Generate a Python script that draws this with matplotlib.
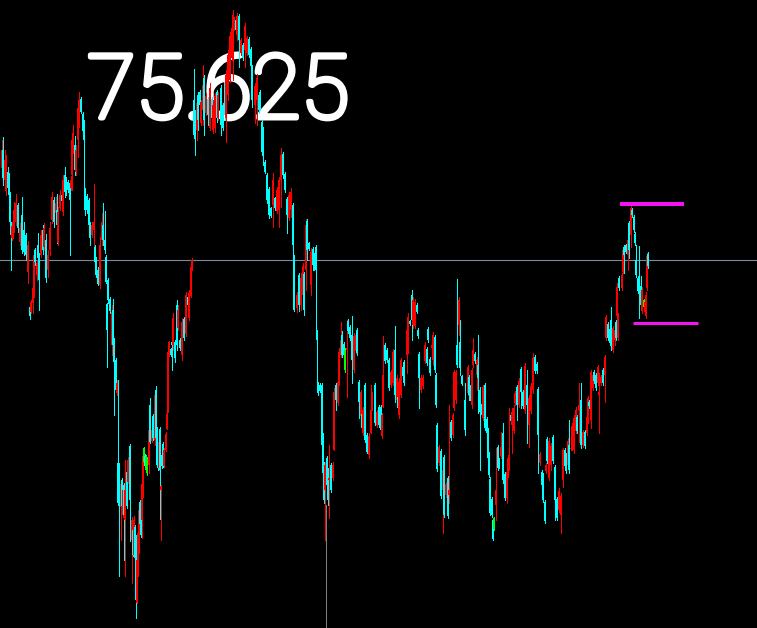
#!/usr/bin/env python3
"""Price chart on black, candles read off the picture (price scale = picture rows)."""
import matplotlib
matplotlib.use("Agg")
import matplotlib.pyplot as plt
import matplotlib.patheffects as pe

BG = "#000000"
UP = "#ff0000"
DOWN = "#00ffff"
DOJI = "#00ff00"
MAGENTA = "#f213f2"
GRID = "#7f8a9e"

times = [
    2, 3, 5, 6, 8, 9, 10, 11, 12, 13,
    14, 16, 18, 20, 22, 24, 26, 28, 30, 31,
    33, 34, 35, 37, 38, 39, 41, 43, 44, 46,
    48, 50, 52, 54, 56, 57, 58, 60, 62, 63,
    65, 66, 68, 70, 71, 72, 73, 75, 76, 78,
    79, 81, 83, 84, 85, 87, 89, 90, 92, 94,
    95, 96, 98, 100, 102, 103, 105, 106, 107, 108,
    110, 112, 113, 114, 116, 117, 118, 119, 121, 122,
    123, 124, 125, 127, 128, 130, 132, 133, 134, 135,
    136, 137, 138, 139, 140, 141, 142, 143, 144, 145,
    146, 147, 149, 150, 152, 153, 155, 156, 157, 158,
    159, 160, 161, 162, 163, 164, 166, 167, 168, 169,
    171, 172, 173, 175, 177, 178, 180, 182, 184, 186,
    188, 189, 191, 192, 194, 195, 197, 198, 200, 201,
    203, 204, 206, 208, 210, 212, 213, 215, 217, 218,
    221, 223, 225, 226, 228, 230, 232, 233, 234, 236,
    237, 239, 241, 243, 245, 247, 249, 251, 252, 255,
    257, 259, 260, 262, 263, 265, 267, 269, 271, 273,
    275, 277, 279, 281, 283, 285, 287, 289, 291, 293,
    294, 297, 299, 301, 303, 304, 306, 307, 309, 311,
    313, 314, 316, 317, 318, 320, 322, 323, 324, 325,
    327, 328, 329, 331, 333, 334, 336, 338, 339, 341,
    342, 344, 345, 347, 348, 350, 352, 354, 356, 357,
    359, 361, 362, 363, 365, 367, 369, 371, 372, 375,
    377, 379, 381, 382, 383, 385, 387, 389, 391, 393,
    395, 397, 398, 399, 401, 403, 404, 407, 408, 410,
    412, 413, 415, 417, 418, 419, 421, 423, 425, 427,
    428, 430, 432, 433, 435, 436, 437, 439, 441, 443,
    444, 446, 448, 449, 451, 453, 454, 456, 457, 459,
    460, 462, 465, 468, 469, 471, 472, 473, 475, 477,
    478, 480, 482, 483, 485, 487, 488, 489, 490, 492,
    493, 494, 496, 498, 499, 501, 503, 505, 507, 508,
    509, 511, 512, 514, 515, 517, 519, 521, 523, 525,
    527, 529, 531, 533, 535, 537, 538, 540, 542, 543,
    545, 546, 547, 549, 551, 553, 555, 557, 559, 561,
    563, 565, 566, 568, 569, 571, 572, 574, 576, 577,
    579, 581, 583, 585, 587, 588, 589, 591, 593, 594,
    596, 598, 599, 601, 603, 605, 606, 608, 610, 611,
    613, 615, 616, 617, 618, 619, 622, 623, 624, 626,
    628, 629, 631, 632, 634, 635, 636, 638, 639, 641,
    642, 644, 645, 646, 647, 648,
]
highs = [
    140, 137, 150, 155, 167, 173, 192, 222, 222, 222,
    202, 194, 203, 223, 197, 222, 233, 241, 305, 300,
    282, 249, 248, 260, 233, 253, 230, 225, 223, 234,
    250, 222, 192, 197, 197, 194, 207, 190, 192, 175,
    167, 177, 180, 180, 176, 133, 125, 136, 145, 102,
    92, 97, 112, 120, 188, 194, 198, 222, 222, 184,
    245, 257, 267, 237, 213, 203, 211, 255, 303, 278,
    297, 305, 299, 338, 358, 380, 380, 463, 480, 478,
    487, 483, 460, 470, 457, 444, 517, 528, 516, 525,
    535, 533, 532, 507, 500, 516, 480, 453, 447, 454,
    455, 457, 412, 398, 428, 414, 391, 386, 427, 453,
    440, 427, 485, 453, 442, 448, 432, 412, 350, 341,
    348, 340, 313, 340, 300, 305, 338, 318, 317, 292,
    295, 290, 265, 258, 69, 110, 100, 92, 90, 100,
    65, 75, 93, 97, 83, 97, 100, 93, 90, 92,
    85, 103, 80, 70, 50, 32, 25, 10, 17, 18,
    13, 14, 38, 43, 23, 36, 37, 47, 65, 83,
    74, 93, 90, 120, 127, 160, 173, 187, 207, 173,
    197, 187, 177, 148, 152, 172, 197, 192, 188, 203,
    255, 292, 273, 273, 263, 272, 219, 219, 242, 248,
    247, 253, 245, 330, 382, 383, 383, 433, 462, 462,
    456, 468, 445, 463, 462, 388, 383, 378, 348, 322,
    331, 342, 348, 320, 319, 325, 316, 333, 332, 328,
    380, 390, 412, 407, 383, 433, 433, 385, 392, 383,
    410, 405, 405, 413, 336, 343, 348, 358, 370, 349,
    326, 375, 395, 378, 358, 365, 360, 327, 313, 320,
    290, 297, 299, 303, 328, 352, 375, 375, 342, 347,
    327, 357, 343, 332, 335, 373, 423, 445, 449, 467,
    455, 482, 476, 405, 420, 413, 370, 370, 279, 297,
    320, 375, 383, 365, 375, 383, 368, 338, 352, 357,
    335, 387, 402, 385, 383, 417, 428, 452, 477, 497,
    518, 517, 448, 445, 458, 432, 423, 472, 468, 455,
    408, 413, 408, 405, 391, 385, 378, 367, 390, 363,
    370, 395, 383, 353, 355, 362, 387, 452, 470, 473,
    500, 463, 437, 438, 443, 435, 465, 497, 488, 493,
    448, 448, 453, 438, 420, 447, 423, 415, 407, 415,
    383, 383, 430, 430, 415, 396, 400, 370, 373, 370,
    373, 365, 373, 375, 368, 355, 315, 322, 327, 307,
    326, 327, 320, 283, 313, 276, 273, 247, 245, 244,
    237, 221, 205, 208, 215, 232, 245, 276, 246, 276,
    287, 299, 300, 292, 253, 252,
]
lows = [
    170, 185, 190, 195, 190, 198, 225, 270, 240, 238,
    232, 225, 232, 245, 253, 255, 260, 283, 319, 313,
    313, 297, 265, 280, 260, 310, 257, 254, 250, 282,
    277, 255, 223, 227, 215, 243, 245, 210, 203, 215,
    197, 195, 192, 255, 190, 190, 153, 175, 175, 157,
    127, 113, 133, 190, 215, 213, 227, 245, 237, 248,
    268, 277, 285, 288, 245, 245, 253, 283, 367, 303,
    313, 355, 350, 415, 392, 395, 505, 576, 540, 508,
    517, 560, 576, 508, 483, 541, 583, 556, 556, 560,
    618, 603, 576, 553, 525, 537, 538, 497, 463, 468,
    472, 475, 473, 443, 442, 440, 445, 440, 467, 470,
    470, 519, 540, 468, 467, 467, 451, 429, 412, 356,
    356, 370, 350, 362, 350, 330, 350, 360, 340, 336,
    307, 320, 297, 270, 138, 155, 140, 130, 107, 125,
    125, 135, 115, 125, 130, 120, 133, 132, 122, 120,
    135, 130, 120, 142, 100, 82, 60, 80, 30, 33,
    40, 67, 55, 60, 67, 55, 57, 68, 107, 123,
    125, 113, 110, 155, 165, 173, 203, 218, 217, 227,
    210, 213, 227, 207, 178, 192, 233, 220, 217, 257,
    311, 312, 311, 310, 300, 315, 290, 260, 250, 295,
    270, 270, 337, 388, 395, 392, 447, 475, 503, 540,
    487, 505, 518, 492, 480, 450, 410, 405, 385, 357,
    357, 357, 372, 397, 333, 340, 383, 372, 353, 355,
    418, 418, 430, 435, 442, 453, 458, 433, 410, 425,
    427, 427, 433, 438, 407, 363, 362, 390, 387, 385,
    402, 402, 410, 418, 397, 378, 385, 373, 353, 325,
    340, 328, 328, 313, 338, 408, 392, 388, 363, 365,
    342, 375, 350, 365, 372, 407, 471, 465, 498, 533,
    517, 497, 518, 503, 440, 437, 410, 403, 367, 335,
    375, 385, 435, 395, 400, 403, 408, 367, 363, 390,
    413, 470, 417, 420, 430, 435, 460, 477, 515, 517,
    540, 530, 520, 470, 468, 458, 483, 500, 503, 477,
    470, 423, 453, 433, 405, 420, 407, 408, 408, 413,
    443, 447, 413, 393, 373, 373, 473, 465, 487, 502,
    523, 473, 463, 480, 470, 463, 520, 520, 512, 533,
    487, 468, 473, 467, 473, 450, 450, 453, 433, 433,
    442, 448, 447, 448, 435, 423, 408, 428, 390, 383,
    390, 385, 433, 385, 385, 402, 340, 340, 345, 350,
    352, 345, 340, 318, 340, 290, 290, 273, 273, 253,
    270, 258, 247, 217, 232, 245, 277, 293, 318, 307,
    313, 308, 313, 318, 290, 268,
]
opens = [
    168, 150, 180, 185, 172, 175, 195, 224, 238, 236,
    228, 222, 205, 242, 215, 230, 235, 272, 307, 312,
    303, 290, 250, 275, 245, 255, 255, 230, 247, 240,
    270, 250, 220, 200, 213, 210, 243, 208, 195, 212,
    175, 180, 182, 183, 188, 175, 150, 145, 172, 140,
    122, 99, 114, 122, 190, 196, 200, 224, 235, 230,
    247, 258, 270, 285, 240, 225, 240, 257, 304, 280,
    299, 345, 310, 345, 360, 393, 463, 465, 507, 480,
    515, 485, 520, 472, 482, 446, 540, 530, 555, 527,
    560, 603, 576, 553, 502, 518, 520, 496, 448, 456,
    457, 459, 465, 405, 441, 416, 440, 390, 429, 455,
    468, 429, 490, 455, 444, 466, 450, 429, 412, 355,
    349, 342, 345, 342, 305, 328, 340, 355, 319, 334,
    297, 318, 296, 270, 100, 112, 130, 95, 92, 123,
    110, 78, 113, 99, 128, 99, 130, 128, 92, 118,
    88, 105, 82, 118, 95, 80, 58, 55, 28, 20,
    35, 16, 53, 45, 50, 53, 39, 49, 67, 105,
    100, 95, 92, 122, 129, 162, 175, 189, 208, 205,
    198, 211, 210, 180, 154, 174, 199, 218, 210, 205,
    257, 308, 275, 305, 295, 274, 270, 221, 243, 285,
    249, 255, 247, 332, 384, 385, 385, 435, 464, 490,
    458, 470, 480, 465, 478, 450, 385, 403, 383, 355,
    335, 344, 350, 350, 321, 327, 335, 370, 351, 330,
    382, 416, 414, 433, 385, 435, 455, 433, 408, 385,
    425, 407, 407, 436, 407, 345, 350, 360, 385, 383,
    350, 400, 397, 415, 395, 367, 362, 355, 350, 321,
    295, 325, 326, 305, 330, 354, 390, 386, 361, 349,
    329, 359, 348, 360, 337, 375, 425, 463, 451, 490,
    457, 495, 478, 495, 422, 435, 408, 400, 345, 325,
    342, 376, 400, 393, 377, 385, 405, 365, 354, 375,
    365, 390, 404, 418, 385, 419, 430, 454, 479, 499,
    520, 518, 505, 447, 459, 456, 433, 474, 498, 475,
    460, 415, 425, 431, 403, 387, 405, 369, 392, 410,
    385, 425, 411, 390, 357, 364, 389, 463, 472, 475,
    502, 471, 439, 478, 465, 437, 467, 499, 510, 515,
    480, 450, 455, 465, 445, 449, 448, 450, 431, 417,
    410, 400, 445, 432, 433, 421, 402, 420, 388, 372,
    375, 383, 395, 383, 370, 375, 338, 324, 329, 320,
    350, 340, 322, 316, 338, 278, 288, 272, 247, 245,
    255, 223, 235, 210, 217, 234, 260, 278, 287, 286,
    311, 300, 312, 316, 288, 254,
]
closes = [
    150, 178, 160, 165, 188, 195, 222, 235, 226, 224,
    210, 203, 228, 228, 250, 252, 255, 245, 316, 302,
    288, 255, 262, 263, 258, 280, 235, 250, 228, 278,
    255, 228, 197, 222, 203, 225, 212, 195, 201, 180,
    192, 192, 190, 200, 180, 140, 135, 170, 150, 108,
    100, 112, 131, 140, 210, 210, 225, 238, 225, 222,
    262, 275, 284, 245, 222, 240, 250, 282, 330, 300,
    311, 312, 345, 362, 390, 383, 503, 505, 484, 506,
    490, 515, 490, 506, 460, 500, 520, 555, 520, 558,
    600, 560, 535, 510, 524, 535, 484, 456, 462, 466,
    470, 473, 430, 442, 430, 438, 395, 438, 465, 468,
    442, 470, 486, 466, 465, 450, 434, 414, 352, 342,
    355, 345, 318, 358, 345, 310, 348, 322, 338, 295,
    305, 293, 267, 260, 135, 138, 103, 120, 105, 102,
    85, 120, 96, 115, 88, 118, 105, 96, 118, 95,
    125, 128, 115, 75, 55, 36, 28, 15, 19, 30,
    16, 40, 40, 58, 26, 38, 55, 66, 100, 86,
    78, 110, 108, 152, 150, 172, 200, 215, 216, 180,
    208, 190, 180, 155, 175, 190, 215, 195, 192, 245,
    310, 295, 305, 278, 266, 310, 225, 250, 249, 252,
    265, 268, 270, 340, 393, 391, 445, 473, 500, 465,
    485, 500, 478, 490, 465, 392, 400, 382, 352, 340,
    355, 355, 370, 348, 331, 338, 360, 336, 335, 353,
    402, 392, 428, 410, 440, 452, 436, 410, 394, 423,
    412, 425, 430, 415, 375, 361, 360, 388, 372, 352,
    395, 378, 408, 382, 360, 376, 383, 330, 317, 324,
    320, 300, 302, 312, 336, 378, 378, 378, 345, 363,
    340, 373, 345, 335, 370, 405, 469, 447, 496, 470,
    515, 484, 516, 490, 438, 415, 372, 372, 365, 300,
    368, 384, 430, 367, 395, 401, 370, 350, 361, 360,
    378, 412, 415, 387, 428, 433, 458, 475, 513, 515,
    539, 529, 490, 468, 467, 447, 480, 498, 472, 458,
    455, 421, 412, 408, 393, 405, 381, 392, 406, 366,
    405, 398, 386, 358, 371, 371, 435, 454, 485, 500,
    521, 465, 461, 441, 446, 461, 500, 518, 491, 496,
    450, 466, 471, 441, 470, 448, 426, 418, 410, 431,
    405, 445, 432, 446, 417, 398, 406, 372, 375, 381,
    388, 367, 392, 377, 383, 357, 317, 338, 343, 345,
    328, 330, 338, 287, 316, 288, 275, 250, 255, 252,
    240, 250, 208, 215, 230, 243, 275, 291, 293, 305,
    290, 307, 302, 295, 256, 266,
]
doji_times = [144, 146, 147, 345, 494, 644]

label = "75.625"
crosshair_price = 260
crosshair_time = 326
crosshair_top = 505
range_high = (620, 684, 204)
range_low = (633, 698, 322.5)

fig = plt.figure(figsize=(7.57, 6.28), dpi=100)
fig.patch.set_facecolor(BG)
ax = fig.add_axes([0, 0, 1, 1])
ax.set_facecolor(BG)
ax.set_xlim(0, 757)
ax.set_ylim(628, 0)
ax.axis("off")

ax.text(87, 118, label, color="white", fontsize=64, family="Roboto", fontweight="light",
        ha="left", va="baseline", zorder=1,
        path_effects=[pe.withStroke(linewidth=3.6, foreground="white", capstyle="round", joinstyle="round")])

ax.axhline(crosshair_price, color=GRID, linewidth=0.8, zorder=2)
ax.vlines(crosshair_time, crosshair_top, 628, color="#808080", linewidth=0.72, zorder=2, antialiased=False)

colors = []
for t, o, c in zip(times, opens, closes, strict=True):
    if t in doji_times:
        colors.append(DOJI)
    elif c < o:  # picture rows run downward, so a smaller row is a higher price
        colors.append(UP)
    else:
        colors.append(DOWN)

ax.vlines(times, highs, lows, colors=colors, linewidth=0.7, zorder=3, antialiased=False)
tops = [min(o, c) for o, c in zip(opens, closes, strict=True)]
heights = [abs(o - c) for o, c in zip(opens, closes, strict=True)]
ax.bar(times, heights, bottom=tops, width=1.8, color=colors, linewidth=0, zorder=4, antialiased=False)

ax.hlines(range_high[2], range_high[0], range_high[1], color=MAGENTA, linewidth=2.9, zorder=5)
ax.hlines(range_low[2], range_low[0], range_low[1], color=MAGENTA, linewidth=2.2, zorder=5)

fig.savefig("out.png", facecolor=BG)
